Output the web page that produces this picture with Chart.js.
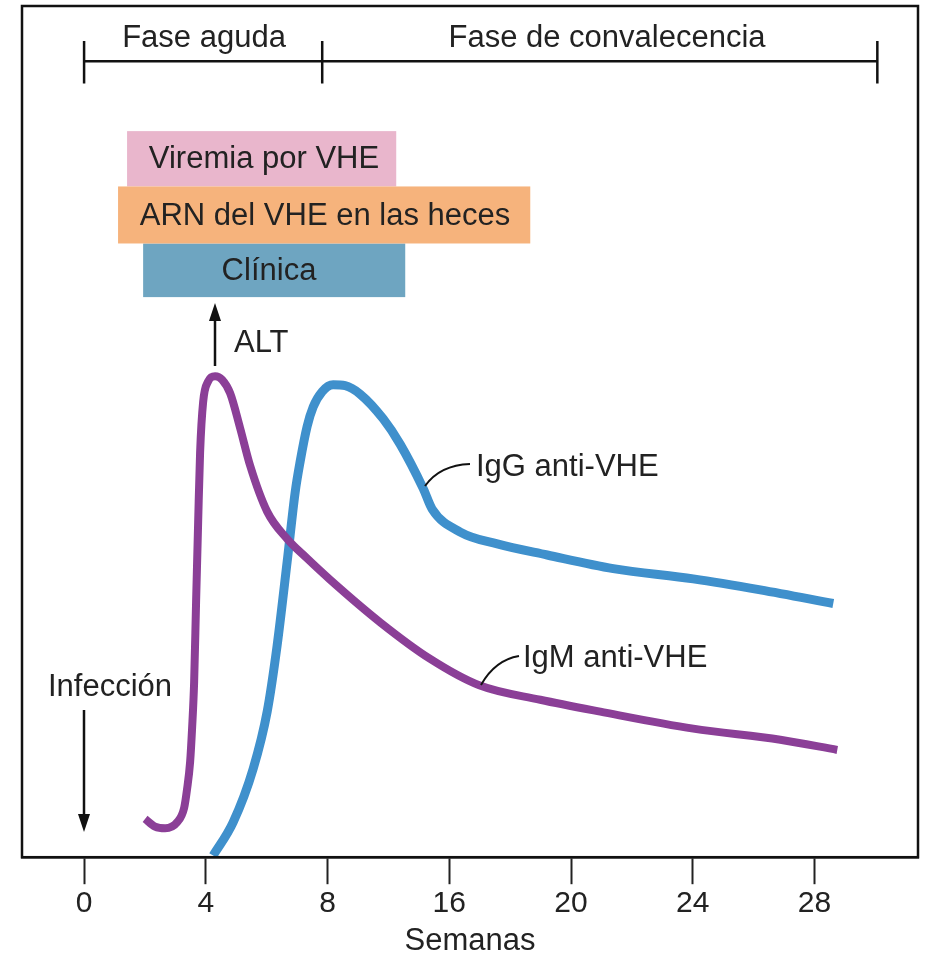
<!DOCTYPE html>
<html>
<head>
<meta charset="utf-8">
<script src="https://cdn.jsdelivr.net/npm/chart.js@4.4.1/dist/chart.umd.min.js"></script>
<style>
  body { margin: 0; background: #fff; }
  canvas { display: block; }
</style>
</head>
<body>
<canvas id="chart" width="936" height="954"></canvas>
<script>
// x values are positions on the drawn axis (one unit per tick), y is a relative level 0-100
const tickPos = [0, 1, 2, 3, 4, 5, 6];
const tickLabels = ["0", "4", "8", "16", "20", "24", "28"];

const igmX = [0.501, 0.583, 0.666, 0.764, 0.822, 0.846, 0.871, 0.887, 0.904, 0.920, 0.937, 0.953, 0.978, 1.019, 1.076, 1.134, 1.200, 1.282, 1.364, 1.504, 1.668, 1.832, 2.021, 2.432, 2.843, 3.246, 3.747, 4.240, 5.004, 5.719, 6.187];
const igmY = [4.5, 3.6, 3.4, 4.1, 5.8, 8.0, 11.2, 15.1, 20.6, 30.0, 39.4, 47.6, 53.5, 55.9, 56.5, 56.1, 54.5, 50.4, 46.0, 40.6, 37.4, 35.1, 32.6, 27.6, 23.3, 20.2, 18.5, 17.1, 15.1, 13.8, 12.6];

const iggX = [1.060, 1.224, 1.389, 1.504, 1.586, 1.668, 1.734, 1.775, 1.832, 1.882, 1.956, 2.046, 2.145, 2.268, 2.457, 2.597, 2.786, 2.859, 3.090, 3.394, 3.804, 4.347, 5.004, 5.555, 6.154];
const iggY = [0.2, 4.1, 10.4, 17.1, 24.9, 34.7, 42.9, 46.5, 50.6, 52.9, 54.7, 55.5, 55.4, 54.4, 51.5, 48.5, 43.3, 40.9, 38.2, 36.8, 35.5, 33.9, 32.7, 31.4, 29.8];

const phaseLabels = ["Fase aguda", "Fase de convalecencia"];
const phaseBounds = [0, 1.956, 6.516];

const boxLabels = ["Viremia por VHE", "ARN del VHE en las heces", "Clínica"];
const boxStart = [0.353, 0.279, 0.485];
const boxEnd = [2.564, 3.665, 2.638];
const boxColors = ["#e9b6cc", "#f6b37c", "#6ea5c1"];

const FONT = '"Liberation Sans", Arial, sans-serif';

const toPoints = (xs, ys) => xs.map((x, i) => ({ x: x, y: ys[i] }));

const arrow = (ctx, x, y1, y2) => {
  const dir = y2 > y1 ? 1 : -1;
  ctx.beginPath();
  ctx.moveTo(x, y1);
  ctx.lineTo(x, y2 - dir * 10);
  ctx.stroke();
  ctx.beginPath();
  ctx.moveTo(x, y2);
  ctx.lineTo(x - 6, y2 - dir * 18);
  ctx.lineTo(x + 6, y2 - dir * 18);
  ctx.closePath();
  ctx.fill();
};

const extras = {
  id: "extras",
  afterDraw(chart) {
    const { ctx, chartArea: a, scales } = chart;
    const X = (v) => scales.x.getPixelForValue(v);
    const Y = (v) => scales.y.getPixelForValue(v);
    ctx.save();

    // frame
    ctx.strokeStyle = "#111";
    ctx.lineWidth = 2.5;
    ctx.strokeRect(a.left, a.top, a.right - a.left, a.bottom - a.top);

    // phase bar
    ctx.beginPath();
    ctx.moveTo(X(phaseBounds[0]), Y(93.5));
    ctx.lineTo(X(phaseBounds[2]), Y(93.5));
    phaseBounds.forEach((b) => {
      ctx.moveTo(X(b), Y(95.9));
      ctx.lineTo(X(b), Y(90.9));
    });
    ctx.stroke();
    ctx.fillStyle = "#222";
    ctx.font = "31px " + FONT;
    ctx.textAlign = "center";
    ctx.textBaseline = "middle";
    ctx.fillText(phaseLabels[0], 204, 38);
    ctx.fillText(phaseLabels[1], 607, 38);

    // boxes
    const tops = [85.3, 78.8, 72.1];
    const bottoms = [78.8, 72.1, 65.8];
    const textX = [264, 325, 269];
    [0, 2, 1].forEach((i) => {
      ctx.fillStyle = boxColors[i];
      const x0 = X(boxStart[i]);
      const y0 = Y(tops[i]);
      ctx.fillRect(x0, y0, X(boxEnd[i]) - x0, Y(bottoms[i]) - y0);
    });
    ctx.fillStyle = "#222";
    boxLabels.forEach((t, i) => {
      ctx.fillText(t, textX[i], (Y(tops[i]) + Y(bottoms[i])) / 2 + 1);
    });

    // ALT arrow
    ctx.fillStyle = "#111";
    ctx.lineWidth = 2.5;
    arrow(ctx, 215, 366, 303);
    ctx.fillStyle = "#222";
    ctx.textAlign = "left";
    ctx.fillText("ALT", 234, 343);

    // Infección arrow
    ctx.fillStyle = "#111";
    arrow(ctx, 84, 710, 832);
    ctx.fillStyle = "#222";
    ctx.textAlign = "center";
    ctx.fillText("Infección", 110, 687);

    // curve labels with leader lines
    ctx.lineWidth = 2;
    ctx.strokeStyle = "#111";
    ctx.beginPath();
    ctx.moveTo(425, 486);
    ctx.quadraticCurveTo(440, 465, 470, 464);
    ctx.stroke();
    ctx.beginPath();
    ctx.moveTo(481, 685);
    ctx.quadraticCurveTo(495, 660, 519, 656);
    ctx.stroke();
    ctx.fillStyle = "#222";
    ctx.textAlign = "left";
    ctx.fillText("IgG anti-VHE", 476, 467);
    ctx.fillText("IgM anti-VHE", 523, 658);

    ctx.restore();
  },
};

new Chart(document.getElementById("chart"), {
  type: "line",
  data: {
    datasets: [
      {
        label: "IgM anti-VHE",
        data: toPoints(igmX, igmY),
        borderColor: "#8b3f97",
        borderWidth: 8,
        borderCapStyle: "butt",
        cubicInterpolationMode: "monotone",
        pointRadius: 0,
        fill: false,
      },
      {
        label: "IgG anti-VHE",
        data: toPoints(iggX, iggY),
        borderColor: "#3f90cc",
        borderWidth: 9,
        borderCapStyle: "butt",
        cubicInterpolationMode: "monotone",
        pointRadius: 0,
        fill: false,
      },
    ],
  },
  options: {
    responsive: false,
    animation: false,
    devicePixelRatio: 1,
    layout: { padding: { left: 22, right: 18, top: 6, bottom: 0 } },
    plugins: { legend: { display: false }, tooltip: { enabled: false } },
    scales: {
      x: {
        type: "linear",
        min: -0.51,
        max: 6.85,
        afterBuildTicks: (scale) => {
          scale.ticks = tickPos.map((v) => ({ value: v }));
        },
        ticks: {
          autoSkip: false,
          maxRotation: 0,
          padding: 5,
          color: "#222",
          font: { family: FONT, size: 30, lineHeight: 1 },
          callback: (v) => tickLabels[tickPos.indexOf(v)],
        },
        grid: {
          drawOnChartArea: false,
          drawTicks: true,
          tickLength: 27,
          tickWidth: 2,
          tickColor: "#222",
        },
        border: { display: true, color: "#111", width: 2.5 },
        title: {
          display: true,
          text: "Semanas",
          color: "#222",
          font: { family: FONT, size: 31, lineHeight: 0.8 },
          padding: { top: 5, bottom: 0 },
        },
      },
      y: {
        display: false,
        min: 0,
        max: 100,
      },
    },
  },
  plugins: [extras],
});
</script>
</body>
</html>
